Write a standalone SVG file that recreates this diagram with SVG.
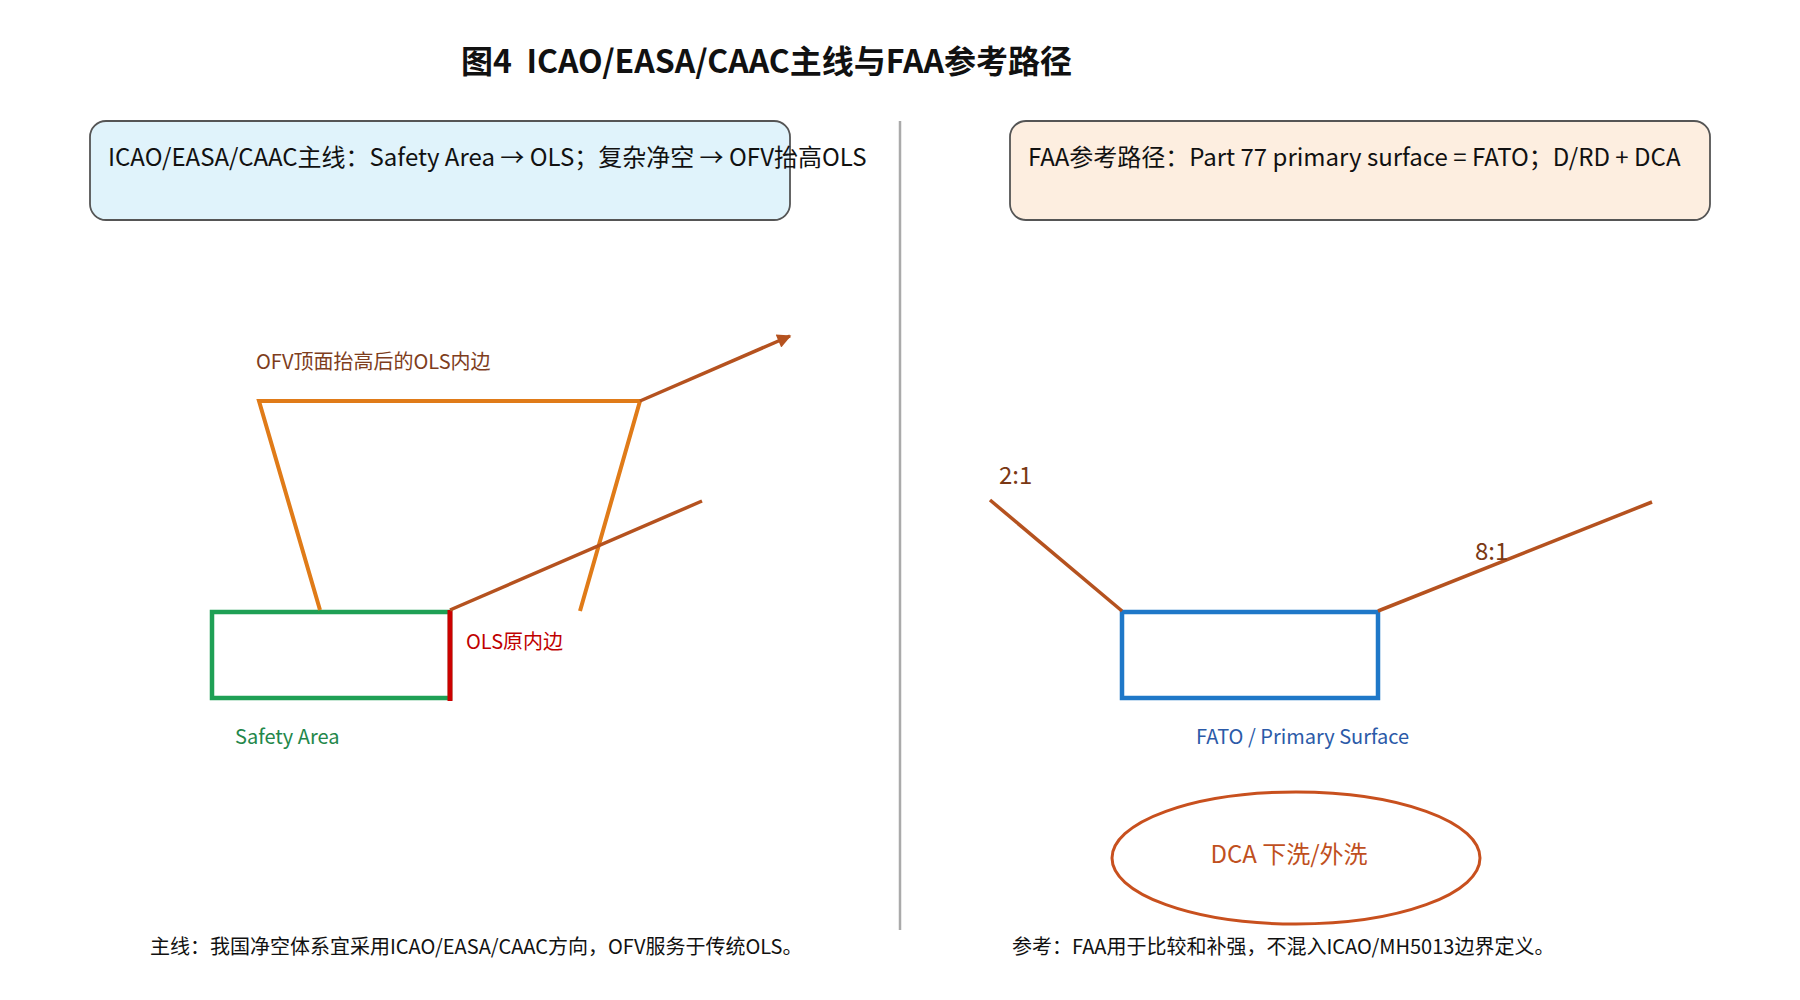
<svg xmlns="http://www.w3.org/2000/svg" width="1800" height="1000" viewBox="0 0 1800 1000">
  <defs>
    <style>
      text { font-family: "Noto Sans CJK SC", "Noto Sans", sans-serif; }
      .title { font-size: 32px; font-weight: bold; fill: #111; white-space: pre; }
      .hdr { stroke: #555; stroke-width: 1.8; }
      .hdrtxt { font-size: 24px; fill: #111; }
      .lbl { font-size: 20px; }
      .foot { font-size: 20px; fill: #111; }
      .orange { stroke: #e07b18; stroke-width: 4; fill: none; }
      .brown { stroke: #b5521f; stroke-width: 3.5; fill: none; }
    </style>
    <marker id="arr" viewBox="0 0 10 10" refX="9" refY="5" markerWidth="16" markerHeight="14" markerUnits="userSpaceOnUse" orient="auto">
      <path d="M0,0 L10,5 L0,10 z" fill="#b5521f"/>
    </marker>
  </defs>
  <rect width="1800" height="1000" fill="#ffffff"/>

  <g id="title">
    <text class="title" x="461" y="73" xml:space="preserve">图4  ICAO/EASA/CAAC主线与FAA参考路径</text>
  </g>

  <g id="header-icao">
    <rect class="hdr" x="90" y="121" width="700" height="99" rx="16" fill="#e0f3fb"/>
    <text class="hdrtxt" x="108" y="166">ICAO/EASA/CAAC主线：Safety Area → OLS；复杂净空 → OFV抬高OLS</text>
  </g>

  <g id="header-faa">
    <rect class="hdr" x="1010" y="121" width="700" height="99" rx="16" fill="#fdeee0"/>
    <text class="hdrtxt" x="1028" y="166">FAA参考路径：Part 77 primary surface = FATO；D/RD + DCA</text>
  </g>

  <g id="divider">
    <line x1="900" y1="121" x2="900" y2="930" stroke="#aaaaaa" stroke-width="2.5"/>
  </g>

  <g id="safety-area">
    <rect x="212" y="612" width="238" height="86" fill="none" stroke="#1fa055" stroke-width="4.5"/>
    <text class="lbl" x="235" y="744" fill="#23874a">Safety Area</text>
  </g>

  <g id="ols-inner-edge">
    <line x1="450" y1="610" x2="450" y2="701" stroke="#cc0000" stroke-width="5"/>
    <text class="lbl" x="466" y="649" fill="#c00000">OLS原内边</text>
  </g>

  <g id="ofv-raised">
    <polyline class="orange" points="320,610 259,401 640,401 580,611"/>
    <text class="lbl" x="256" y="369" fill="#7e3d1c">OFV顶面抬高后的OLS内边</text>
  </g>

  <g id="fato">
    <rect x="1122" y="612" width="256" height="86" fill="none" stroke="#1f78c8" stroke-width="4.5"/>
    <text class="lbl" x="1196" y="744" fill="#2b5aa8">FATO / Primary Surface</text>
  </g>

  <g id="dca">
    <ellipse cx="1296" cy="858" rx="184" ry="66" fill="none" stroke="#c8501e" stroke-width="3"/>
    <text x="1289" y="863" font-size="24" text-anchor="middle" fill="#c0501e">DCA 下洗/外洗</text>
  </g>

  <g id="connectors">
    <line class="brown" x1="640" y1="401" x2="790" y2="336" marker-end="url(#arr)"/>
    <line class="brown" x1="450" y1="610" x2="702" y2="501"/>
    <line class="brown" x1="1122" y1="611" x2="990" y2="500"/>
    <line class="brown" x1="1378" y1="611" x2="1652" y2="502"/>
  </g>

  <g id="slope-labels">
    <text x="999" y="484" font-size="24" fill="#7a3814">2:1</text>
    <text x="1475" y="560" font-size="24" fill="#7a3814">8:1</text>
  </g>

  <g id="footers">
    <text class="foot" x="150" y="954">主线：我国净空体系宜采用ICAO/EASA/CAAC方向，OFV服务于传统OLS。</text>
    <text class="foot" x="1012" y="954">参考：FAA用于比较和补强，不混入ICAO/MH5013边界定义。</text>
  </g>
</svg>
